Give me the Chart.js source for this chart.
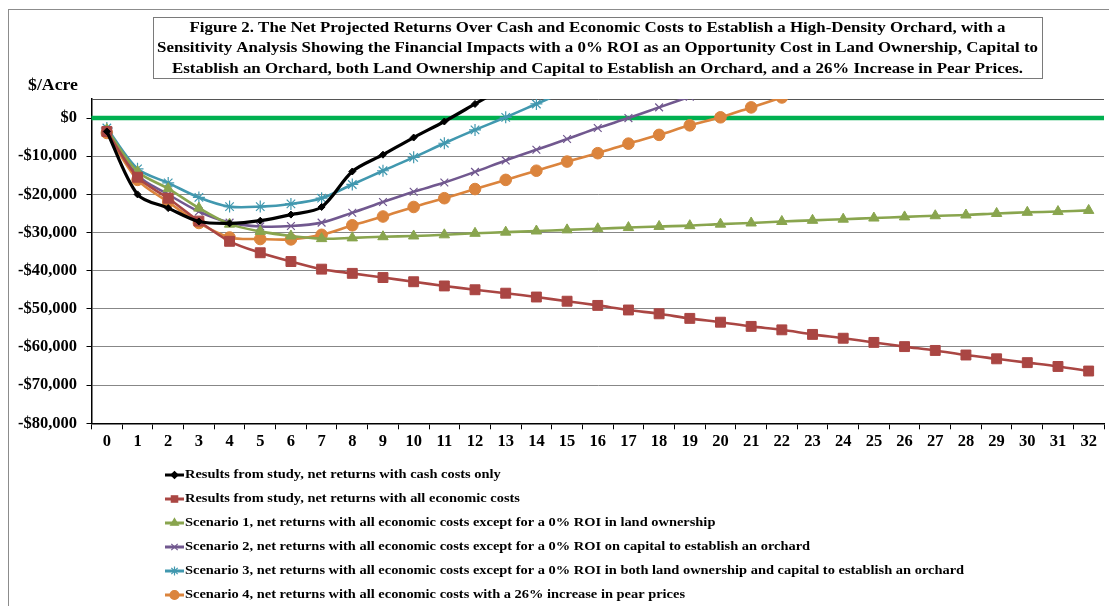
<!DOCTYPE html>
<html>
<head>
<meta charset="utf-8">
<script src="https://cdn.jsdelivr.net/npm/chart.js@4/dist/chart.umd.min.js"></script>
<style>
  html, body { margin: 0; padding: 0; background: #fff; overflow: hidden; }
  #wrap { position: relative; width: 1112px; height: 606px; }
</style>
</head>
<body>
<div id="wrap"><canvas id="chart"></canvas></div>
<script>
// Orchard year
const years = ['0','1','2','3','4','5','6','7','8','9','10','11','12','13','14','15','16',
               '17','18','19','20','21','22','23','24','25','26','27','28','29','30','31','32'];

// Net returns, $/acre (lines that climb past the top of the axis stop once off-scale)
const cashCostsOnly = [-3500, -20000, -23600, -27100, -27600, -26900, -25300, -23300, -14000, -9600,
                       -5100, -900, 3700, 8300];
const allEconomicCosts = [-3500, -15500, -21000, -27000, -32300, -35300, -37600, -39600, -40700, -41800,
                          -42900, -44000, -45000, -45900, -46900, -48000, -49100, -50300, -51300, -52500,
                          -53500, -54600, -55500, -56700, -57700, -58800, -59900, -60900, -62100, -63100,
                          -64100, -65100, -66300];
const scenario1 = [-3000, -14000, -18500, -23600, -27800, -29700, -30900, -31600, -31400, -31100,
                   -30900, -30600, -30200, -29900, -29600, -29300, -29000, -28700, -28400, -28200,
                   -27800, -27500, -27100, -26800, -26500, -26200, -25900, -25600, -25400, -25000,
                   -24700, -24500, -24200];
const scenario2 = [-3200, -15000, -20000, -24500, -27400, -28400, -28300, -27400, -24800, -22000,
                   -19300, -16900, -14100, -11100, -8300, -5500, -2600, 0, 2800, 5600];
const scenario3 = [-2600, -13300, -17000, -20800, -23200, -23200, -22500, -21000, -17400, -13800,
                   -10300, -6600, -3100, 200, 3700, 7200];
const scenario4 = [-3900, -16200, -22000, -27500, -31300, -31700, -31800, -30600, -28100, -25800,
                   -23300, -21000, -18600, -16200, -13800, -11400, -9200, -6700, -4400, -1900,
                   200, 2800, 5400];

// Value axis: labelled ticks plus the unlabelled top of the range
const yTickValues = [-80000, -70000, -60000, -50000, -40000, -30000, -20000, -10000, 0];
const yMin = -80000, yMax = 5000;

const seriesNames = [
  'Results from study, net returns with cash costs only',
  'Results from study, net returns with all economic costs',
  'Scenario 1, net returns with all economic costs except for a 0% ROI in land ownership',
  'Scenario 2, net returns with all economic costs except for a 0% ROI on capital to establish an orchard',
  'Scenario 3, net returns with all economic costs except for a 0% ROI in both land ownership and capital to establish an orchard',
  'Scenario 4, net returns with all economic costs with a 26% increase in pear prices'
];

const titleLines = [
  'Figure 2. The Net Projected Returns Over Cash and Economic Costs to Establish a High-Density Orchard, with a',
  'Sensitivity Analysis Showing the Financial Impacts with a 0% ROI as an Opportunity Cost in Land Ownership, Capital to',
  'Establish an Orchard, both Land Ownership and Capital to Establish an Orchard, and a 26% Increase in Pear Prices.'
];
const yAxisLabel = '$/Acre';
const breakEven = 0;

const SERIF = "'Liberation Serif', 'Times New Roman', serif";
const STRETCH = 1.11;       // horizontal widening of the serif captions
const TITLE_STRETCH = 1.09;

function series(label, data, color, style, radius, width, extra) {
  return Object.assign({
    label, data,
    borderColor: color,
    backgroundColor: color,
    borderWidth: width,
    pointStyle: style,
    pointRadius: radius,
    pointHoverRadius: radius,
    pointBorderColor: color,
    pointBackgroundColor: color,
    pointBorderWidth: 1,
    tension: 0.3,
    fill: false
  }, extra || {});
}

const datasets = [
  series(seriesNames[0], cashCostsOnly, '#000000', 'rectRot', 3.5, 3.2),
  series(seriesNames[1], allEconomicCosts, '#AA4643', 'rect', 7, 2.6),
  series(seriesNames[2], scenario1, '#89A54E', 'triangle', 6, 2.6),
  series(seriesNames[3], scenario2, '#71588F', 'crossRot', 5.5, 2.6, { pointBorderWidth: 1.2 }),
  series(seriesNames[4], scenario3, '#4198AF', 'star', 6, 2.6, { pointBorderWidth: 1.2 }),
  series(seriesNames[5], scenario4, '#DB843D', 'circle', 5.8, 2.6)
];

function money(v) {
  const s = Math.abs(v).toLocaleString('en-US');
  return (v < 0 ? '-$' : '$') + s;
}

// draw text widened horizontally around an anchor point
function wideText(ctx, text, x, y, align, k) {
  const f = k || STRETCH;
  const w = ctx.measureText(text).width * f;
  let left = x;
  if (align === 'center') left = x - w / 2;
  ctx.save();
  ctx.translate(left, y);
  ctx.scale(f, 1);
  ctx.textAlign = 'left';
  ctx.fillText(text, 0, 0);
  ctx.restore();
  return w;
}

// Frame, boxed title, axis caption, break-even line and the stacked legend
const decorations = {
  id: 'decorations',
  beforeDatasetsDraw(chart) {
    const { ctx, chartArea } = chart;
    const y = chart.scales.y.getPixelForValue(breakEven);
    ctx.save();
    ctx.strokeStyle = '#00B050';
    ctx.lineWidth = 4.5;
    ctx.beginPath();
    ctx.moveTo(chartArea.left, y);
    ctx.lineTo(chartArea.right, y);
    ctx.stroke();
    ctx.restore();
  },
  afterDraw(chart) {
    const { ctx } = chart;
    ctx.save();

    // outer frame
    ctx.strokeStyle = '#8c8c8c';
    ctx.lineWidth = 1;
    ctx.strokeRect(8.5, 9.5, 3000, 3000);

    // title box
    ctx.font = 'bold 15.5px ' + SERIF;
    let w = 0;
    titleLines.forEach(t => { w = Math.max(w, ctx.measureText(t).width * TITLE_STRETCH); });
    const cx = 597.5;
    const boxW = w + 8;
    ctx.fillStyle = '#fff';
    ctx.fillRect(cx - boxW / 2, 17, boxW, 61);
    ctx.strokeStyle = '#7a7a7a';
    ctx.strokeRect(Math.round(cx - boxW / 2) + 0.5, 17.5, Math.round(boxW), 61);
    ctx.fillStyle = '#000';
    ctx.textBaseline = 'middle';
    titleLines.forEach((t, i) => wideText(ctx, t, cx, 27.5 + i * 20.5, 'center', TITLE_STRETCH));

    // axis caption
    ctx.font = 'bold 16px ' + SERIF;
    wideText(ctx, yAxisLabel, 28, 86, 'left');

    // legend, one entry per row
    ctx.font = 'bold 13px ' + SERIF;
    chart.data.datasets.forEach((ds, i) => {
      const ly = 475 + i * 24;
      ctx.strokeStyle = ds.borderColor;
      ctx.lineWidth = 3;
      ctx.beginPath();
      ctx.moveTo(165, ly);
      ctx.lineTo(184, ly);
      ctx.stroke();
      if (Chart.helpers && Chart.helpers.drawPoint) {
        ctx.fillStyle = ds.pointBackgroundColor;
        ctx.strokeStyle = ds.pointBorderColor;
        ctx.lineWidth = 1.2;
        Chart.helpers.drawPoint(ctx, {
          pointStyle: ds.pointStyle,
          radius: Math.min(ds.pointRadius, 4.5),
          rotation: 0,
          borderWidth: 1.2
        }, 174.5, ly);
      }
      ctx.fillStyle = '#000';
      ctx.textBaseline = 'middle';
      wideText(ctx, ds.label, 185, ly, 'left');
    });
    ctx.restore();
  }
};

new Chart(document.getElementById('chart'), {
  type: 'line',
  data: { labels: years, datasets },
  plugins: [decorations],
  options: {
    responsive: true,
    maintainAspectRatio: false,
    animation: false,
    layout: { padding: { top: 99, left: 0, right: 1.5, bottom: 152.7 } },
    plugins: {
      legend: { display: false },
      title: { display: false },
      tooltip: { enabled: false }
    },
    scales: {
      x: {
        offset: true,
        afterFit(scale) { scale.height = 30; },
        grid: {
          display: true,
          drawOnChartArea: false,
          drawTicks: true,
          tickLength: 6,
          tickColor: '#000',
          offset: true
        },
        border: { color: '#000', width: 1.5 },
        ticks: {
          autoSkip: false,
          maxRotation: 0,
          padding: 3,
          color: '#000',
          font: { family: SERIF, size: 16.5, weight: 'bold' }
        }
      },
      y: {
        min: yMin,
        max: yMax,
        afterFit(scale) { scale.width = 91.5; },
        afterBuildTicks(scale) {
          scale.ticks = yTickValues.concat([yMax]).map(v => ({ value: v }));
        },
        grid: {
          color: ctx => (ctx.tick && ctx.tick.value === yMax) ? '#555' : '#878787',
          lineWidth: 1,
          tickLength: 5,
          tickColor: ctx => (ctx.tick && ctx.tick.value === yMax) ? 'rgba(0,0,0,0)' : '#000'
        },
        border: { color: '#000', width: 1.5 },
        ticks: {
          padding: 9.5,
          color: '#000',
          font: { family: SERIF, size: 16.5, weight: 'bold' },
          callback: v => (v > 0 ? '' : money(v))
        }
      }
    }
  }
});
</script>
</body>
</html>
